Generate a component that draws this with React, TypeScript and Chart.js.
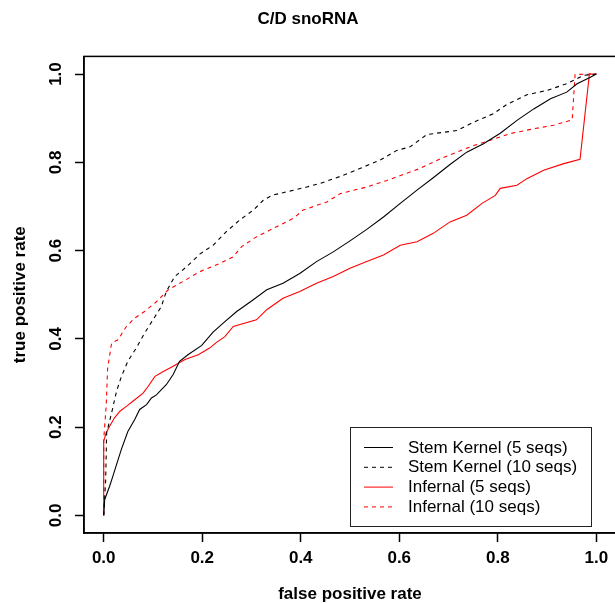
import { useEffect, useRef } from "react";
import { Chart, registerables } from "chart.js";

Chart.register(...registerables);

const chartTitle = "C/D snoRNA";
const xAxisTitle = "false positive rate";
const yAxisTitle = "true positive rate";
const tickValues = [0, 0.2, 0.4, 0.6, 0.8, 1.0];
const seriesLabels = [
  "Stem Kernel (5 seqs)",
  "Stem Kernel (10 seqs)",
  "Infernal (5 seqs)",
  "Infernal (10 seqs)",
];

const skFiveFpr = [0, 0.002, 0.012, 0.019, 0.026, 0.036, 0.049, 0.063, 0.073, 0.087, 0.097, 0.107, 0.127, 0.141, 0.154, 0.171, 0.199, 0.222, 0.246, 0.27, 0.303, 0.331, 0.364, 0.398, 0.432, 0.466, 0.5, 0.534, 0.568, 0.602, 0.636, 0.669, 0.703, 0.737, 0.771, 0.805, 0.839, 0.873, 0.907, 0.94, 0.961, 0.988, 1.0];
const skFiveTpr = [0, 0.036, 0.066, 0.09, 0.115, 0.15, 0.19, 0.217, 0.24, 0.251, 0.266, 0.273, 0.296, 0.319, 0.349, 0.364, 0.385, 0.415, 0.439, 0.462, 0.488, 0.511, 0.526, 0.548, 0.575, 0.597, 0.622, 0.648, 0.676, 0.707, 0.737, 0.765, 0.795, 0.823, 0.842, 0.866, 0.895, 0.921, 0.944, 0.959, 0.978, 0.993, 1.0];

const skTenFpr = [0, 0.004, 0.006, 0.016, 0.026, 0.036, 0.049, 0.066, 0.083, 0.1, 0.117, 0.127, 0.144, 0.168, 0.195, 0.222, 0.249, 0.276, 0.304, 0.324, 0.341, 0.371, 0.412, 0.439, 0.48, 0.52, 0.561, 0.595, 0.622, 0.656, 0.717, 0.751, 0.791, 0.818, 0.859, 0.9, 0.94, 0.974, 1.0];
const skTenTpr = [0, 0.08, 0.187, 0.232, 0.281, 0.315, 0.349, 0.379, 0.413, 0.443, 0.473, 0.507, 0.541, 0.563, 0.592, 0.612, 0.643, 0.669, 0.692, 0.714, 0.725, 0.733, 0.744, 0.752, 0.768, 0.786, 0.805, 0.827, 0.835, 0.863, 0.872, 0.891, 0.91, 0.931, 0.953, 0.963, 0.978, 0.997, 1.0];

const infFiveFpr = [0, 0, 0.005, 0.012, 0.022, 0.033, 0.046, 0.063, 0.08, 0.09, 0.104, 0.121, 0.141, 0.165, 0.192, 0.215, 0.229, 0.246, 0.263, 0.31, 0.331, 0.364, 0.398, 0.432, 0.466, 0.5, 0.534, 0.568, 0.602, 0.636, 0.669, 0.703, 0.737, 0.768, 0.795, 0.805, 0.839, 0.859, 0.893, 0.934, 0.967, 0.986, 1.0];
const infFiveTpr = [0, 0.168, 0.187, 0.202, 0.221, 0.236, 0.247, 0.262, 0.277, 0.292, 0.315, 0.326, 0.338, 0.353, 0.364, 0.379, 0.392, 0.405, 0.428, 0.443, 0.466, 0.492, 0.507, 0.526, 0.541, 0.56, 0.575, 0.59, 0.612, 0.62, 0.639, 0.665, 0.68, 0.707, 0.725, 0.741, 0.748, 0.763, 0.782, 0.797, 0.807, 1.0, 1.0];

const infTenFpr = [0, 0, 0.005, 0.008, 0.016, 0.029, 0.046, 0.063, 0.083, 0.107, 0.131, 0.161, 0.195, 0.236, 0.263, 0.28, 0.31, 0.351, 0.385, 0.405, 0.453, 0.48, 0.534, 0.575, 0.622, 0.642, 0.683, 0.717, 0.751, 0.785, 0.825, 0.873, 0.913, 0.951, 0.957, 1.0];
const infTenTpr = [0, 0.172, 0.247, 0.334, 0.39, 0.398, 0.428, 0.447, 0.462, 0.484, 0.511, 0.53, 0.552, 0.571, 0.586, 0.609, 0.631, 0.654, 0.673, 0.692, 0.71, 0.729, 0.744, 0.759, 0.778, 0.786, 0.808, 0.823, 0.838, 0.85, 0.865, 0.876, 0.884, 0.896, 0.999, 1.0];

const FONT = "'Liberation Sans', Arial, Helvetica, sans-serif";

const toPoints = (xs: number[], ys: number[]) => xs.map((x, i) => ({ x, y: ys[i] }));

const framePlugin = {
  id: "rFrame",
  afterDraw(chart: any) {
    const { ctx, chartArea } = chart;
    ctx.save();
    ctx.strokeStyle = "#000";
    ctx.lineWidth = 1.5;
    ctx.strokeRect(chartArea.left, chartArea.top, chartArea.right - chartArea.left, chartArea.bottom - chartArea.top);
    ctx.restore();
  },
};

const insetLegendPlugin = {
  id: "insetLegend",
  afterDraw(chart: any) {
    const { ctx, chartArea } = chart;
    const boxR = chartArea.right - 25;
    const boxB = chartArea.bottom - 7;
    const boxL = boxR - 241;
    const boxT = boxB - 99;
    ctx.save();
    ctx.fillStyle = "#fff";
    ctx.fillRect(boxL, boxT, boxR - boxL, boxB - boxT);
    ctx.strokeStyle = "#222";
    ctx.lineWidth = 1;
    ctx.strokeRect(boxL + 0.5, boxT + 0.5, boxR - boxL, boxB - boxT);
    ctx.font = `17px ${FONT}`;
    ctx.textBaseline = "middle";
    ctx.textAlign = "left";
    chart.data.datasets.forEach((ds: any, i: number) => {
      const y = boxT + 20 + i * 19.8;
      ctx.strokeStyle = ds.borderColor;
      ctx.lineWidth = 1;
      ctx.setLineDash(ds.borderDash || []);
      ctx.beginPath();
      ctx.moveTo(boxL + 14, y + 0.5);
      ctx.lineTo(boxL + 43, y + 0.5);
      ctx.stroke();
      ctx.setLineDash([]);
      ctx.fillStyle = "#000";
      ctx.fillText(ds.label, boxL + 58, y + 1);
    });
    ctx.restore();
  },
};

export default function App() {
  const ref = useRef<HTMLCanvasElement | null>(null);

  useEffect(() => {
    if (!ref.current) return;
    const mk = (label: string, xs: number[], ys: number[], color: string, dash: number[]) => ({
      label,
      data: toPoints(xs, ys),
      borderColor: color,
      backgroundColor: color,
      borderWidth: 1.1,
      borderDash: dash,
      pointRadius: 0,
      showLine: true,
      fill: false,
      tension: 0,
    });
    const chart = new Chart(ref.current, {
      type: "scatter",
      data: {
        datasets: [
          mk(seriesLabels[0], skFiveFpr, skFiveTpr, "#000000", []),
          mk(seriesLabels[1], skTenFpr, skTenTpr, "#000000", [4, 4]),
          mk(seriesLabels[2], infFiveFpr, infFiveTpr, "#ff0000", []),
          mk(seriesLabels[3], infTenFpr, infTenTpr, "#ff0000", [4, 4]),
        ],
      },
      options: {
        responsive: false,
        animation: false,
        events: [],
        layout: { padding: 0 },
        plugins: {
          legend: { display: false },
          tooltip: { enabled: false },
          title: {
            display: true,
            text: chartTitle,
            color: "#000",
            font: { family: FONT, size: 17, weight: "bold", lineHeight: 1.2 },
            padding: { top: 9, bottom: 27 },
          },
        },
        scales: {
          x: {
            type: "linear",
            min: -0.04,
            max: 1.04,
            afterFit: (s: any) => { s.height = 70; },
            afterBuildTicks: (s: any) => { s.ticks = tickValues.map((v) => ({ value: v })); },
            grid: { drawOnChartArea: false, drawTicks: true, tickLength: 9, tickColor: "#000", tickWidth: 1.5 },
            border: { display: true, color: "#000", width: 1.5 },
            ticks: {
              color: "#000",
              font: { family: FONT, size: 17, weight: "bold" },
              padding: 6,
              maxRotation: 0,
              callback: (v: any) => Number(v).toFixed(1),
            },
            title: {
              display: true,
              text: xAxisTitle,
              color: "#000",
              font: { family: FONT, size: 17, weight: "bold", lineHeight: 1 },
              padding: { top: 0, bottom: 0 },
            },
          },
          y: {
            type: "linear",
            min: -0.04,
            max: 1.04,
            afterFit: (s: any) => { s.width = 84; },
            afterBuildTicks: (s: any) => { s.ticks = tickValues.map((v) => ({ value: v })); },
            grid: { drawOnChartArea: false, drawTicks: true, tickLength: 9, tickColor: "#000", tickWidth: 1.5 },
            border: { display: true, color: "#000", width: 1.5 },
            ticks: {
              color: "#000",
              font: { family: FONT, size: 17, weight: "bold" },
              padding: 7,
              minRotation: 90,
              maxRotation: 90,
              crossAlign: "center",
              callback: (v: any) => Number(v).toFixed(1),
            },
            title: {
              display: true,
              text: yAxisTitle,
              color: "#000",
              font: { family: FONT, size: 17, weight: "bold", lineHeight: 1 },
              padding: { top: 12, bottom: 0 },
            },
          },
        },
      },
      plugins: [framePlugin, insetLegendPlugin],
    } as any);
    return () => chart.destroy();
  }, []);

  return (
    <div style={{ position: "fixed", left: 0, top: 0, width: 615, height: 603, overflow: "hidden", background: "#fff" }}>
      <canvas ref={ref} width={616} height={603} style={{ display: "block", width: 616, height: 603 }} />
    </div>
  );
}
